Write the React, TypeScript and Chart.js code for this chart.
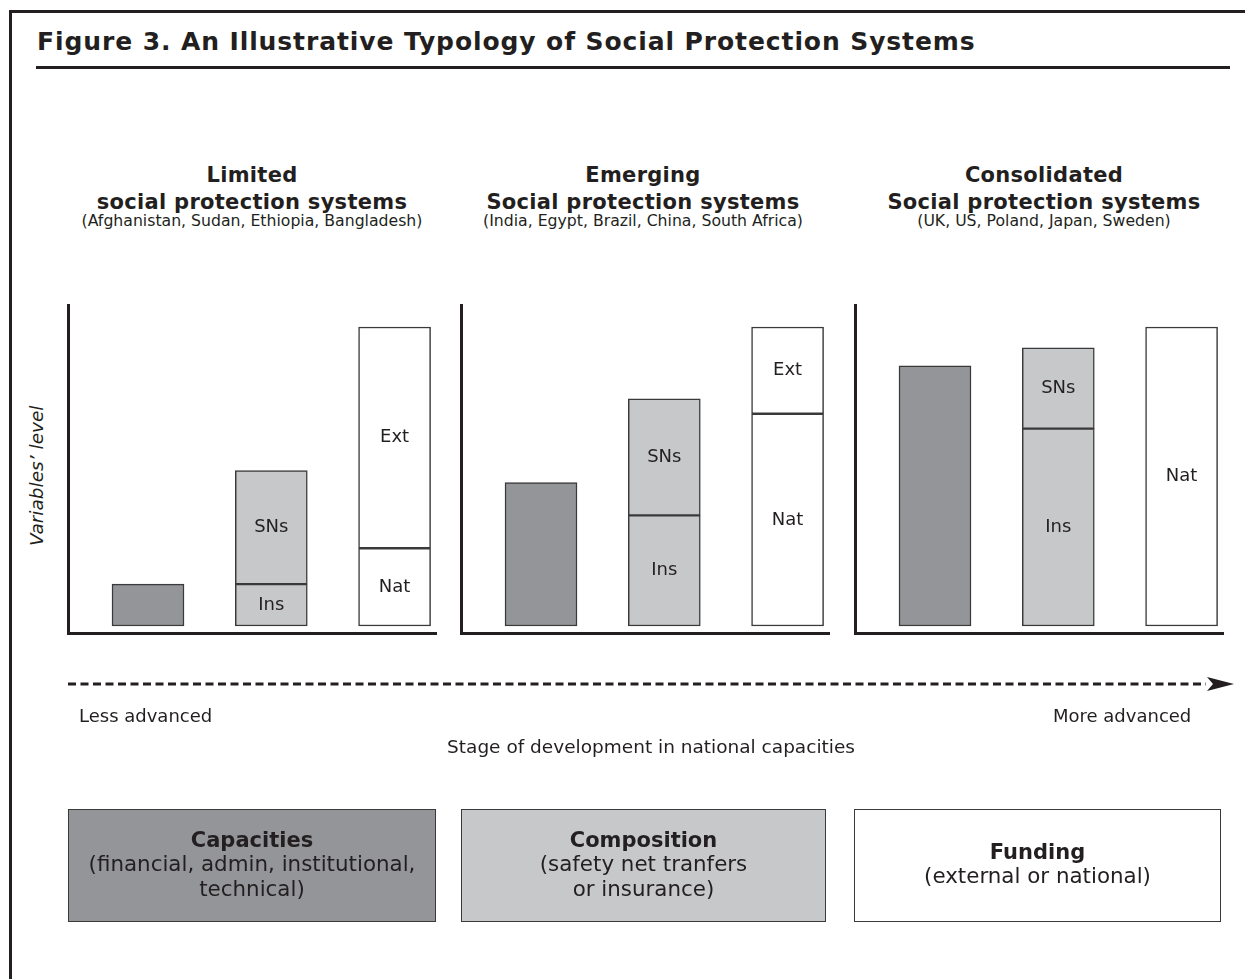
import React, { useEffect, useRef } from 'react';
import { Chart, registerables } from 'chart.js';

Chart.register(...registerables);

// ---------- data ----------
const figureTitle = 'Figure 3. An Illustrative Typology of Social Protection Systems';
const panelTitles = ['Limited', 'Emerging', 'Consolidated'];
const panelSubtitles = ['social protection systems', 'Social protection systems', 'Social protection systems'];
const panelExamples = [
  '(Afghanistan, Sudan, Ethiopia, Bangladesh)',
  '(India, Egypt, Brazil, China, South Africa)',
  '(UK, US, Poland, Japan, Sweden)',
];
const categories = ['Capacities', 'Composition', 'Funding'];
const categoryNotes = [
  ['(financial, admin, institutional,', 'technical)'],
  ['(safety net tranfers', 'or insurance)'],
  ['(external or national)'],
];
const segmentLabels = ['Ins', 'SNs', 'Nat', 'Ext'];
const capacities = [14, 48, 87];
const insurance = [14, 37, 66];
const safetyNets = [38, 39, 27];
const national = [26, 71, 100];
const external = [74, 29, 0];
const yAxisTitle = 'Variables\u2019 level';
const axisLow = 'Less advanced';
const axisHigh = 'More advanced';
const axisTitle = 'Stage of development in national capacities';

// ---------- styles ----------
const FONT = '"DejaVu Sans", Verdana, sans-serif';
const INK = '#231f20';
const EDGE = '#3a3a3a';
const COLORS = ['#939598', '#c7c8ca', '#ffffff'];
const PANEL_LEFT = [68, 461, 855];
const PANEL_W = 368;
const PANEL_TOP = 305;
const PANEL_H = 328;
const PAD = 10;
const HEAD_CX = [252, 643, 1044];
const BOX_LEFT = [68, 461, 854];
const BOX_W = [368, 365, 367];

const barLabelPlugin = {
  id: 'barLabels',
  afterDatasetsDraw(chart: any) {
    const ctx = chart.ctx;
    chart.data.datasets.forEach((ds: any, i: number) => {
      if (!ds.label) return;
      const meta = chart.getDatasetMeta(i);
      meta.data.forEach((el: any, j: number) => {
        const v = ds.data[j].y;
        if (!v) return;
        const p = el.getProps(['x', 'y', 'base'], true);
        ctx.save();
        ctx.font = `18px ${FONT}`;
        ctx.fillStyle = INK;
        ctx.textAlign = 'center';
        ctx.textBaseline = 'middle';
        ctx.fillText(ds.label, p.x, (p.y + p.base) / 2);
        ctx.restore();
      });
    });
  },
};

function PanelChart({ index }: { index: number }) {
  const ref = useRef<HTMLCanvasElement>(null);
  useEffect(() => {
    const cap = categories.indexOf('Capacities');
    const comp = categories.indexOf('Composition');
    const fund = categories.indexOf('Funding');
    const mk = (label: string, x: number, y: number, color: string) => ({
      label,
      data: [{ x, y }],
      backgroundColor: color,
      borderColor: EDGE,
      borderWidth: 1.5,
      borderSkipped: false,
      barThickness: 72,
    });
    const chart = new Chart(ref.current as HTMLCanvasElement, {
      type: 'bar',
      data: {
        datasets: [
          mk('', cap, capacities[index], COLORS[0]),
          mk(segmentLabels[0], comp, insurance[index], COLORS[1]),
          mk(segmentLabels[1], comp, safetyNets[index], COLORS[1]),
          mk(segmentLabels[2], fund, national[index], COLORS[2]),
          mk(segmentLabels[3], fund, external[index], COLORS[2]),
        ] as any,
      },
      options: {
        animation: false,
        responsive: false,
        maintainAspectRatio: false,
        events: [],
        layout: { padding: PAD },
        plugins: { legend: { display: false }, tooltip: { enabled: false } },
        scales: {
          x: {
            type: 'linear',
            offset: false,
            min: -0.649,
            max: 2.336,
            stacked: true,
            grid: { display: false, drawTicks: false, offset: false },
            ticks: { display: false },
            border: { display: true, width: 3, color: INK },
          },
          y: {
            type: 'linear',
            min: -2.34,
            max: 107.36,
            stacked: true,
            grid: { display: false, drawTicks: false },
            ticks: { display: false },
            border: { display: true, width: 3, color: INK },
          },
        },
      } as any,
      plugins: [barLabelPlugin],
    });
    return () => chart.destroy();
  }, [index]);
  return (
    <canvas
      ref={ref}
      width={PANEL_W + 2 * PAD}
      height={PANEL_H + 2 * PAD}
      style={{ position: 'absolute', left: PANEL_LEFT[index] - PAD, top: PANEL_TOP - PAD, display: 'block' }}
    />
  );
}

function Txt({ x, y, size, bold, italic, spacing = 0, align = 'center', children }: any) {
  const style: any = {
    position: 'absolute',
    top: y - 0.928 * size,
    fontSize: size,
    lineHeight: `${1.164 * size}px`,
    fontFamily: FONT,
    fontWeight: bold ? 'bold' : 'normal',
    fontStyle: italic ? 'italic' : 'normal',
    letterSpacing: spacing,
    color: INK,
    whiteSpace: 'nowrap',
  };
  if (align === 'center') {
    style.left = x - 400;
    style.width = 800;
    style.textAlign = 'center';
  } else {
    style.left = x;
  }
  return <div style={style}>{children}</div>;
}

export default function App() {
  return (
    <div style={{ position: 'absolute', left: 0, top: 0, width: 1245, height: 979, overflow: 'hidden', background: '#fff' }}>
      {/* frame */}
      <div style={{ position: 'absolute', left: 9, top: 10, width: 1400, height: 1200, borderLeft: `3px solid ${INK}`, borderTop: `3px solid ${INK}` }} />
      <Txt x={37} y={50} size={25} bold spacing={0.9} align="left">{figureTitle}</Txt>
      <div style={{ position: 'absolute', left: 36, top: 66, width: 1194, height: 2.5, background: INK }} />

      {panelTitles.map((t, i) => (
        <React.Fragment key={i}>
          <Txt x={HEAD_CX[i]} y={182} size={21} bold spacing={0.3}>{t}</Txt>
          <Txt x={HEAD_CX[i]} y={209} size={21} bold spacing={0.3}>{panelSubtitles[i]}</Txt>
          <Txt x={HEAD_CX[i]} y={227} size={15.7}>{panelExamples[i]}</Txt>
          <PanelChart index={i} />
        </React.Fragment>
      ))}

      <div
        style={{
          position: 'absolute', left: 37 - 100, top: 476 - 0.582 * 18.5, width: 200, height: 1.164 * 18.5,
          lineHeight: `${1.164 * 18.5}px`, fontSize: 18.5, fontStyle: 'italic', fontFamily: FONT, color: INK,
          textAlign: 'center', transform: 'rotate(-90deg)', transformOrigin: '50% 50%', whiteSpace: 'nowrap',
        }}
      >
        {yAxisTitle}
      </div>

      <svg width={1245} height={979} style={{ position: 'absolute', left: 0, top: 0, pointerEvents: 'none' }}>
        <line x1={68} y1={684} x2={1206} y2={684} stroke={INK} strokeWidth={3} strokeDasharray="8 4.5" />
        <path d="M1234,684 L1207,677 L1213,684 L1207,691 Z" fill={INK} />
      </svg>

      <Txt x={79} y={723} size={18} align="left">{axisLow}</Txt>
      <Txt x={1053} y={723} size={18} align="left">{axisHigh}</Txt>
      <Txt x={651} y={753} size={18.5}>{axisTitle}</Txt>

      {categories.map((c, i) => {
        const cx = BOX_LEFT[i] + BOX_W[i] / 2;
        const lines = categoryNotes[i];
        const first = lines.length === 1 ? 859 : 847;
        return (
          <React.Fragment key={c}>
            <div
              style={{
                position: 'absolute', left: BOX_LEFT[i], top: 809, width: BOX_W[i], height: 113,
                boxSizing: 'border-box', border: `1.5px solid ${EDGE}`, background: COLORS[i],
              }}
            />
            <Txt x={cx} y={first} size={21} bold>{c}</Txt>
            {lines.map((l, k) => (
              <Txt key={k} x={cx} y={first + 25 * (k + 1)} size={21.4}>{l}</Txt>
            ))}
          </React.Fragment>
        );
      })}
    </div>
  );
}
